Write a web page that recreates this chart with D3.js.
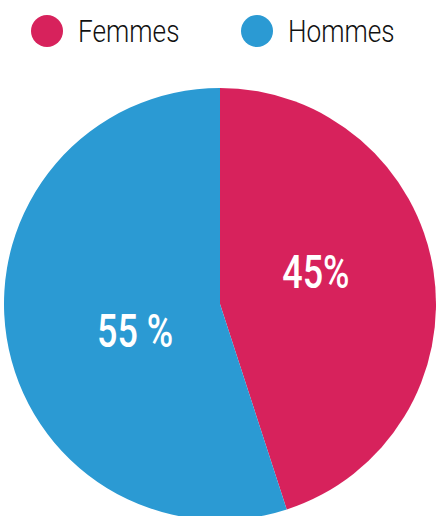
<!DOCTYPE html>
<html>
<head>
<meta charset="utf-8">
<script src="https://cdn.jsdelivr.net/npm/d3@7"></script>
<style>
  body { margin: 0; background: #fff; }
  svg { display: block; }
  text { font-family: Roboto, "Noto Sans", sans-serif; }
</style>
</head>
<body>
<svg width="436" height="516"></svg>
<script>
const CATEGORIES = ['Femmes', 'Hommes'];
const VALUES = [45, 55];
const LABELS = ['45%', '55 %'];
const COLORS = ['#d7225c', '#2b9ad3'];

const svg = d3.select('svg');
const cx = 220, cy = 304, radius = 216;

const color = d3.scaleOrdinal().domain(CATEGORIES).range(COLORS);

const pie = d3.pie().sort(null).value(d => d.value);
const data = CATEGORIES.map((c, i) => ({ name: c, value: VALUES[i], label: LABELS[i] }));

const arc = d3.arc().innerRadius(0).outerRadius(radius);

const g = svg.append('g').attr('transform', `translate(${cx},${cy})`);

const slices = g.selectAll('path')
    .data(pie(data))
    .enter()
    .append('path')
    .attr('d', arc)
    .attr('fill', d => color(d.data.name));

// labels sit a bit off the centroid, like the original
const labelArc = d3.arc().innerRadius(92).outerRadius(92);
const nudge = [[5, -18], [6, 12]];

g.selectAll('.lbl')
    .data(pie(data))
    .enter()
    .append('text')
    .attr('class', 'lbl')
    .attr('transform', (d, i) => {
        const [x, y] = labelArc.centroid(d);
        return `translate(${x + nudge[i][0]},${y + nudge[i][1]}) scale(0.78,1)`;
    })
    .attr('text-anchor', 'middle')
    .attr('dy', '0.36em')
    .attr('fill', '#fff')
    .attr('font-size', 46)
    .attr('font-weight', 500)
    .text(d => d.data.label);

// legend
const legendX = d3.scalePoint().domain(CATEGORIES).range([47, 257]);

const legend = svg.selectAll('.legend')
    .data(CATEGORIES)
    .enter()
    .append('g')
    .attr('class', 'legend')
    .attr('transform', d => `translate(${legendX(d)},31)`);

legend.append('circle')
    .attr('r', 16)
    .attr('fill', d => color(d));

legend.append('text')
    .attr('transform', 'translate(31,11) scale(0.82,1)')
    .attr('font-size', 32)
    .attr('font-weight', 300)
    .attr('fill', '#111')
    .text(d => d);
</script>
</body>
</html>
